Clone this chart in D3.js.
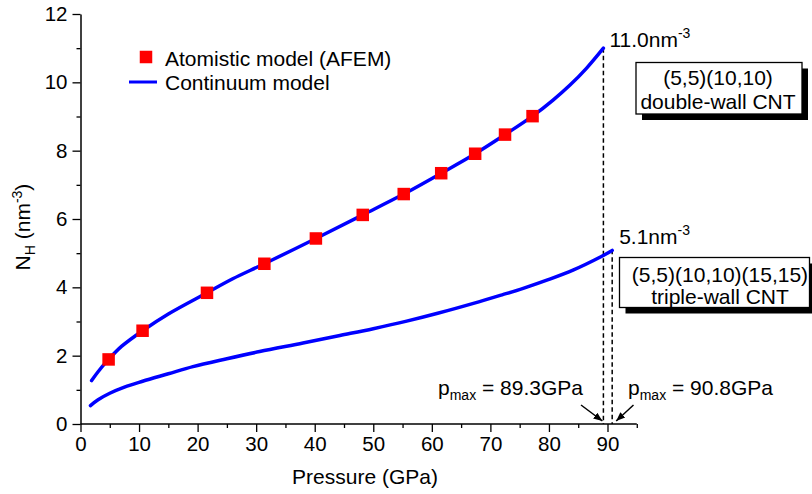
<!DOCTYPE html>
<html><head><meta charset="utf-8">
<script src="https://cdn.jsdelivr.net/npm/d3@7"></script>
<style>
html,body{margin:0;padding:0;background:#fff;}
svg{display:block;font-family:"Liberation Sans",Arial,sans-serif;}
</style></head>
<body>
<svg id="c" width="812" height="494"></svg>
<script>
// Atomistic model (AFEM) points, double-wall CNT
const afemP = [4.8, 10.6, 21.6, 31.4, 40.2, 48.2, 55.2, 61.6, 67.4, 72.5, 77.2];
const afemN = [1.89, 2.73, 3.84, 4.69, 5.43, 6.12, 6.73, 7.34, 7.91, 8.47, 9.01];
// Continuum model, double-wall CNT
const dwP = [1.9, 3, 4.8, 7, 10.6, 15, 21.6, 26, 31.4, 40.2, 48.2, 55.2, 61.6, 67.4, 72.5, 77.2, 80.7, 83.6, 86.4, 89.3];
const dwN = [1.27, 1.53, 1.89, 2.27, 2.73, 3.22, 3.84, 4.25, 4.69, 5.43, 6.12, 6.73, 7.34, 7.91, 8.47, 9.01, 9.48, 9.92, 10.41, 11.0];
// Continuum model, triple-wall CNT
const twP = [1.7, 3, 5, 7.5, 10.6, 15, 19.2, 25, 30.6, 38, 44.3, 50, 55.7, 61, 67.1, 72, 75.6, 80, 84.2, 88.7, 90.8];
const twN = [0.54, 0.71, 0.90, 1.08, 1.25, 1.47, 1.68, 1.91, 2.12, 2.37, 2.59, 2.79, 3.01, 3.24, 3.53, 3.78, 3.97, 4.23, 4.51, 4.88, 5.08];
// Axis ticks
const xMajor = [0, 10, 20, 30, 40, 50, 60, 70, 80, 90];
const xMinor = [5, 15, 25, 35, 45, 55, 65, 75, 85, 95];
const yMajor = [0, 2, 4, 6, 8, 10, 12];
const yMinor = [1, 3, 5, 7, 9, 11];
const pMax = [89.3, 90.8];
const nMax = [11.0, 5.1];

const svg = d3.select("#c");
const x = d3.scaleLinear().domain([0, 90]).range([80.5, 607.5]);
const y = d3.scaleLinear().domain([0, 12]).range([424, 14]);
const FS = 21;

// defs: arrowhead
svg.append("defs").append("marker").attr("id","ah").attr("viewBox","0 0 10 10")
  .attr("refX",10).attr("refY",5).attr("markerWidth",9).attr("markerHeight",9)
  .attr("markerUnits","userSpaceOnUse").attr("orient","auto")
  .append("path").attr("d","M0,1 L10,5 L0,9 Z").attr("fill","#000");

// dashed p_max lines
svg.selectAll(".dash").data(pMax).join("line")
  .attr("x1", d => x(d)).attr("x2", d => x(d))
  .attr("y1", (d,i) => y(nMax[i])).attr("y2", y(0))
  .attr("stroke","#000").attr("stroke-width",1.5).attr("stroke-dasharray","4.5,3");

// curves
const line = d3.line().x(d => x(d[0])).y(d => y(d[1])).curve(d3.curveCatmullRom.alpha(0.5));
svg.append("path").datum(dwP.map((p,i)=>[p,dwN[i]])).attr("d",line)
  .attr("fill","none").attr("stroke","#0000ff").attr("stroke-width",3.5).attr("stroke-linecap","round");
svg.append("path").datum(twP.map((p,i)=>[p,twN[i]])).attr("d",line)
  .attr("fill","none").attr("stroke","#0000ff").attr("stroke-width",3.5).attr("stroke-linecap","round");

// markers
const S = 12.5;
svg.selectAll(".sq").data(afemP.map((p,i)=>[p,afemN[i]])).join("rect")
  .attr("x", d => x(d[0]) - S/2).attr("y", d => y(d[1]) - S/2)
  .attr("width", S).attr("height", S).attr("fill","#ff0000");

// axes
const xAxis = svg.append("g").attr("transform",`translate(0,${y(0)})`)
  .call(d3.axisBottom(x).tickValues(xMajor).tickSize(8).tickSizeOuter(0).tickPadding(4));
svg.append("g").attr("transform",`translate(0,${y(0)})`)
  .call(d3.axisBottom(x).tickValues(xMinor).tickSize(4).tickFormat("")).select(".domain").remove();
svg.append("line").attr("x1",x(0)).attr("x2",x(95)).attr("y1",y(0)).attr("y2",y(0)).attr("stroke","#000").attr("stroke-width",1.5);
const yAxis = svg.append("g").attr("transform",`translate(${x(0)},0)`)
  .call(d3.axisLeft(y).tickValues(yMajor).tickSize(8).tickSizeOuter(0).tickPadding(5));
svg.append("g").attr("transform",`translate(${x(0)},0)`)
  .call(d3.axisLeft(y).tickValues(yMinor).tickSize(4).tickFormat("")).select(".domain").remove();
svg.selectAll(".domain").attr("stroke","#000").attr("stroke-width",1.5);
svg.selectAll(".tick line").attr("stroke","#000").attr("stroke-width",1.3);
svg.selectAll(".tick text").attr("font-size",20.5).attr("font-family","Liberation Sans, Arial, sans-serif").attr("fill","#000");
xAxis.select(".domain").remove();

// axis titles
svg.append("text").attr("x", 365).attr("y", 484).attr("text-anchor","middle")
  .attr("font-size",FS).text("Pressure (GPa)");
const yt = svg.append("text").attr("transform","translate(30,227) rotate(-90)")
  .attr("text-anchor","middle").attr("font-size",FS);
yt.append("tspan").text("N");
yt.append("tspan").attr("font-size",14).attr("dy",5).text("H");
yt.append("tspan").attr("dy",-5).text(" (nm");
yt.append("tspan").attr("font-size",14).attr("dy",-8).text("-3");
yt.append("tspan").attr("dy",8).text(")");

// legend
svg.append("rect").attr("x",146-S/2).attr("y",57-S/2).attr("width",S).attr("height",S).attr("fill","#ff0000");
svg.append("text").attr("x",165).attr("y",65.5).attr("font-size",FS).text("Atomistic model (AFEM)");
svg.append("line").attr("x1",129).attr("x2",157).attr("y1",82).attr("y2",82).attr("stroke","#0000ff").attr("stroke-width",3);
svg.append("text").attr("x",165).attr("y",89.5).attr("font-size",FS).text("Continuum model");

// value annotations
function supLabel(xp, yp, main, sup) {
  const t = svg.append("text").attr("x",xp).attr("y",yp).attr("font-size",FS);
  t.append("tspan").text(main);
  t.append("tspan").attr("font-size",14).attr("dy",-9).text(sup);
}
supLabel(x(pMax[0]) + 6, 46.5, "11.0nm", "-3");
supLabel(x(pMax[1]) + 7, 244, "5.1nm", "-3");

// boxes with shadow
function box(x0, y0, w, h, lines, cx, ys) {
  svg.append("rect").attr("x",x0+6).attr("y",y0+6).attr("width",w).attr("height",h).attr("fill","#000");
  svg.append("rect").attr("x",x0).attr("y",y0).attr("width",w).attr("height",h)
    .attr("fill","#fff").attr("stroke","#000").attr("stroke-width",1.3);
  lines.forEach((s,i) => svg.append("text").attr("x",cx).attr("y",ys[i]).attr("text-anchor","middle")
    .attr("font-size",FS).text(s));
}
box(636, 62.5, 166, 51.5, ["(5,5)(10,10)", "double-wall CNT"], 718, [85, 108.5]);
box(619.5, 257.5, 190, 50, ["(5,5)(10,10)(15,15)", "triple-wall CNT"], 720, [281.5, 303.5]);

// p_max labels
function pLabel(xp, yp, val) {
  const t = svg.append("text").attr("x",xp).attr("y",yp).attr("font-size",FS);
  t.append("tspan").text("p");
  t.append("tspan").attr("font-size",14).attr("dy",5).text("max");
  t.append("tspan").attr("dy",-5).text(" = " + val + "GPa");
}
pLabel(438, 395, pMax[0]);
pLabel(628, 395, pMax[1]);

// arrows
svg.append("line").attr("x1",581).attr("y1",405).attr("x2",x(pMax[0])-1).attr("y2",421)
  .attr("stroke","#000").attr("stroke-width",1.5).attr("marker-end","url(#ah)");
svg.append("line").attr("x1",633.5).attr("y1",405).attr("x2",x(pMax[1])+4).attr("y2",421)
  .attr("stroke","#000").attr("stroke-width",1.5).attr("marker-end","url(#ah)");
</script>
</body></html>
